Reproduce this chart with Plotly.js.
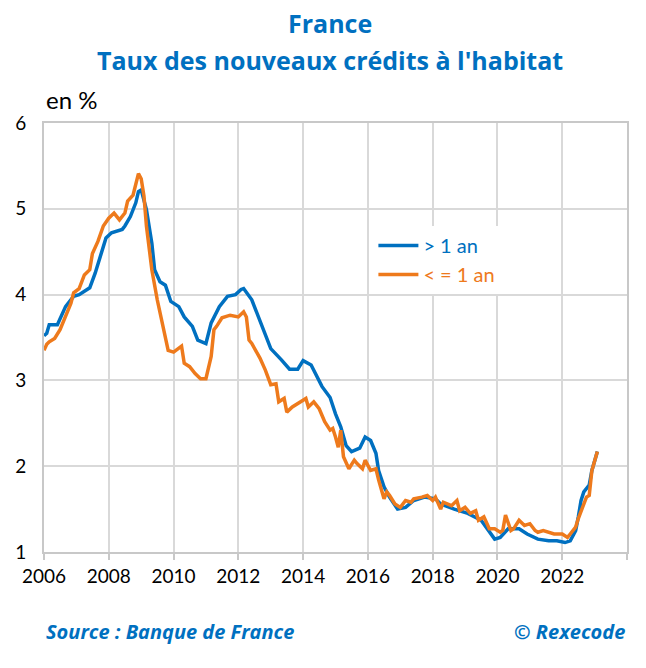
<!DOCTYPE html>
<html>
<head>
<meta charset="utf-8">
<script src="https://cdn.plot.ly/plotly-3.0.1.min.js"></script>
<style>html,body{margin:0;padding:0;background:#fff;}#chart{width:646px;height:668px;}</style>
</head>
<body>
<div id="chart"></div>
<script>
const titleLine1 = "France";
const titleLine2 = "Taux des nouveaux crédits à l'habitat";
const unitLabel = "en %";
const sourceText = "Source : Banque de France";
const copyrightText = "© Rexecode";
const seriesNames = ["&gt; 1 an", "&lt; = 1 an"];

const blueDates = ['2006-01','2006-02','2006-03','2006-06','2006-09','2006-12',
 '2007-02','2007-06','2007-08','2007-10','2007-12',
 '2008-02','2008-06','2008-07','2008-09','2008-11','2008-12',
 '2009-01','2009-03','2009-05','2009-06','2009-08','2009-10','2009-12',
 '2010-03','2010-05','2010-08','2010-10',
 '2011-01','2011-03','2011-06','2011-09','2011-12',
 '2012-02','2012-03','2012-06','2012-10',
 '2013-01','2013-05','2013-08','2013-11',
 '2014-01','2014-04','2014-08','2014-11',
 '2015-01','2015-03','2015-05','2015-07','2015-10','2015-12',
 '2016-02','2016-04','2016-05','2016-07','2016-09','2016-12',
 '2017-03','2017-06','2017-10',
 '2018-02','2018-04','2018-09',
 '2019-02','2019-07','2019-10','2019-12',
 '2020-02','2020-05','2020-09','2020-12',
 '2021-04','2021-08','2021-11',
 '2022-02','2022-04','2022-06','2022-07','2022-08','2022-09','2022-11','2022-12',
 '2023-02'];
const blueValues = [3.52,3.55,3.65,3.65,3.86,3.98,
 4.0,4.08,4.25,4.44,4.66,
 4.72,4.76,4.8,4.91,5.07,5.2,
 5.22,4.99,4.6,4.29,4.15,4.11,3.92,
 3.86,3.74,3.63,3.47,
 3.43,3.67,3.86,3.98,4.0,
 4.06,4.07,3.94,3.61,
 3.37,3.24,3.13,3.13,
 3.23,3.18,2.93,2.8,
 2.61,2.46,2.24,2.17,2.21,2.34,
 2.30,2.15,1.95,1.76,1.64,1.50,
 1.52,1.60,1.64,
 1.62,1.56,1.50,
 1.45,1.37,1.23,1.15,
 1.17,1.27,1.27,1.21,
 1.15,1.13,1.13,
 1.11,1.13,1.25,1.41,1.60,1.70,1.78,1.95,
 2.17];

const orangeDates = ['2006-01','2006-02','2006-03','2006-05','2006-07','2006-09','2006-11','2006-12',
 '2007-02','2007-04','2007-06','2007-07','2007-09','2007-11',
 '2008-01','2008-03','2008-05','2008-07','2008-08','2008-10','2008-11','2008-12',
 '2009-01','2009-02','2009-03','2009-04','2009-05','2009-07','2009-09','2009-11',
 '2010-01','2010-02','2010-04','2010-05','2010-07','2010-09','2010-11',
 '2011-01','2011-03','2011-04','2011-05','2011-07','2011-10',
 '2012-01','2012-03','2012-04','2012-05','2012-06','2012-09','2012-11',
 '2013-01','2013-03','2013-04','2013-06','2013-07','2013-09','2013-11',
 '2014-02','2014-03','2014-05','2014-07','2014-09','2014-11','2014-12',
 '2015-01','2015-02','2015-03','2015-04','2015-06','2015-08','2015-09','2015-11','2015-12',
 '2016-02','2016-04','2016-05','2016-07','2016-08','2016-09','2016-11',
 '2017-01','2017-03','2017-05','2017-06','2017-09','2017-11',
 '2018-01','2018-02','2018-04','2018-05','2018-08','2018-10','2018-11',
 '2019-01','2019-03','2019-05','2019-06','2019-08','2019-10','2019-12',
 '2020-02','2020-03','2020-04','2020-06','2020-07','2020-09','2020-11',
 '2021-01','2021-03','2021-04','2021-06','2021-08','2021-10',
 '2022-01','2022-03','2022-04','2022-06','2022-07','2022-09','2022-10','2022-11','2022-12',
 '2023-02'];
const orangeValues = [3.35,3.42,3.45,3.49,3.59,3.74,3.9,4.02,
 4.07,4.23,4.29,4.48,4.62,4.80,
 4.89,4.95,4.87,4.95,5.09,5.16,5.28,5.41,
 5.35,5.15,4.80,4.55,4.29,3.94,3.63,3.35,
 3.33,3.35,3.40,3.20,3.16,3.08,3.02,
 3.02,3.28,3.59,3.63,3.73,3.76,
 3.74,3.80,3.74,3.47,3.43,3.26,3.12,
 2.95,2.96,2.75,2.79,2.63,2.69,2.73,
 2.79,2.69,2.75,2.67,2.52,2.42,2.44,
 2.34,2.22,2.42,2.11,1.97,2.07,2.03,1.97,2.07,
 1.95,1.97,1.84,1.62,1.70,1.66,1.56,
 1.52,1.60,1.58,1.62,1.64,1.66,
 1.60,1.64,1.50,1.58,1.54,1.60,1.48,
 1.52,1.45,1.48,1.37,1.41,1.27,1.27,
 1.23,1.25,1.43,1.25,1.27,1.37,1.31,
 1.33,1.25,1.23,1.25,1.23,1.21,
 1.21,1.17,1.21,1.29,1.39,1.58,1.64,1.66,1.95,
 2.17];

const blue = '#0070C0';
const orange = '#EE7A1C';
const font = 'Lato, "Open Sans", sans-serif';
const wideFont = '"Open Sans", Lato, sans-serif';

const traces = [
  {x: blueDates, y: blueValues, type: 'scatter', mode: 'lines',
   name: '<span style="color:' + blue + '">' + seriesNames[0] + '</span>',
   line: {color: blue, width: 3.5}},
  {x: orangeDates, y: orangeValues, type: 'scatter', mode: 'lines',
   name: '<span style="color:' + orange + '">' + seriesNames[1] + '</span>',
   line: {color: orange, width: 3.5}}
];

const layout = {
  width: 646, height: 668,
  margin: {l: 44, r: 19, t: 123, b: 116},
  paper_bgcolor: '#fff', plot_bgcolor: '#fff',
  font: {family: font, size: 19, color: '#000'},
  showlegend: true,
  legend: {x: 0.565, y: 0.76, xanchor: 'left', yanchor: 'top', bgcolor: '#fff',
           font: {family: font, size: 20}, tracegroupgap: 0, itemwidth: 40},
  xaxis: {type: 'date', range: ['2006-01-01', '2024-01-01'], dtick: 'M24', tick0: '2006-01-01',
          tickformat: '%Y', showgrid: true, gridcolor: '#d9d9d9', gridwidth: 2,
          showline: true, linecolor: '#c8c8c8', linewidth: 2, mirror: true,
          ticks: 'outside', ticklen: 6, tickcolor: '#c8c8c8', tickwidth: 2,
          tickfont: {family: font, size: 19, color: '#000'}, zeroline: false, fixedrange: true},
  yaxis: {range: [1, 6], dtick: 1, showgrid: true, gridcolor: '#d9d9d9', gridwidth: 2,
          showline: true, linecolor: '#c8c8c8', linewidth: 2, mirror: true,
          ticks: 'outside', ticklen: 12, tickcolor: 'rgba(0,0,0,0)',
          tickfont: {family: font, size: 19, color: '#000'}, zeroline: false, fixedrange: true},
  annotations: [
    {text: '<b>' + titleLine1 + '</b>', xref: 'paper', yref: 'paper', x: 0.49, y: 1.233,
     xanchor: 'center', yanchor: 'middle', showarrow: false, font: {family: wideFont, size: 25, color: blue}},
    {text: '<b>' + titleLine2 + '</b>', xref: 'paper', yref: 'paper', x: 0.49, y: 1.147,
     xanchor: 'center', yanchor: 'middle', showarrow: false, font: {family: wideFont, size: 25, color: blue}},
    {text: unitLabel, xref: 'paper', yref: 'paper', x: 0, y: 1.054,
     xanchor: 'left', yanchor: 'middle', showarrow: false, font: {family: font, size: 24, color: '#000'}},
    {text: '<b><i>' + sourceText + '</i></b>', xref: 'paper', yref: 'paper', x: 0, y: -0.186,
     xanchor: 'left', yanchor: 'middle', showarrow: false, font: {family: wideFont, size: 20, color: blue}},
    {text: '<b><i>' + copyrightText + '</i></b>', xref: 'paper', yref: 'paper', x: 1, y: -0.186,
     xanchor: 'right', yanchor: 'middle', showarrow: false, font: {family: wideFont, size: 20, color: blue}}
  ]
};

Plotly.newPlot('chart', traces, layout, {displayModeBar: false, staticPlot: true});
</script>
</body>
</html>
